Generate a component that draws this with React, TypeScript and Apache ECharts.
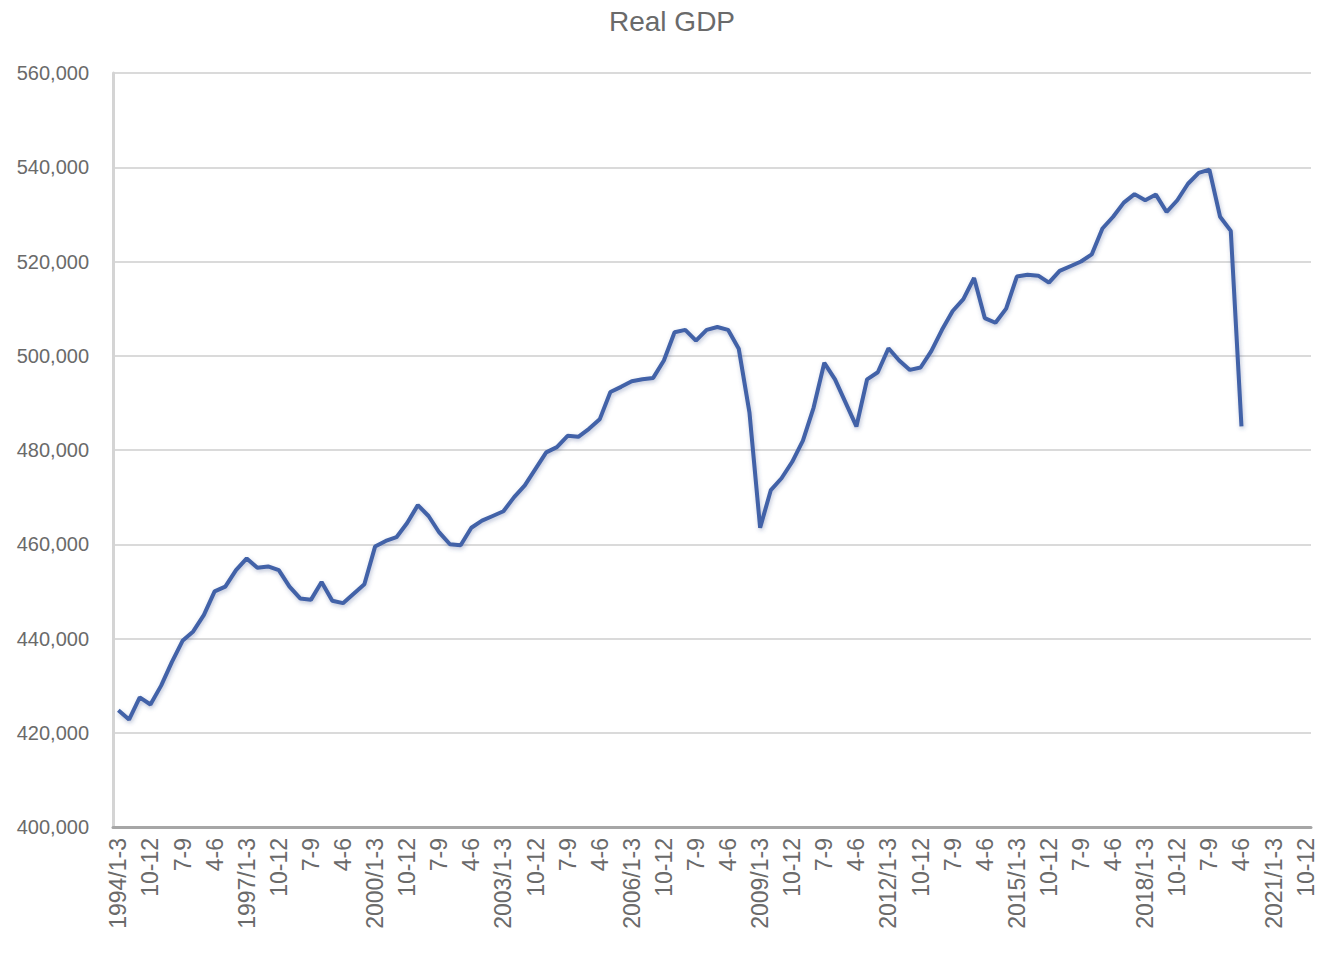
import React, { useEffect, useRef } from "react";
import * as echarts from "echarts";

const title = "Real GDP";

const startYear = 1994;
const endYear = 2021;
const quarterNames = ["1-3", "4-6", "7-9", "10-12"];

// Real GDP, quarterly, 1994 Q1 .. 2020 Q2
const gdp1994to2000 = [
  424800, 422800, 427500, 426000,
  430000, 435000, 439500, 441500,
  445000, 450000, 451000, 454500,
  457000, 455000, 455300, 454500,
  451000, 448500, 448200, 452000,
  448000, 447500, 449500, 451500,
  459500, 460700, 461500, 464500,
];
const gdp2001to2007 = [
  468300, 466000, 462500, 460000,
  459800, 463500, 465000, 466000,
  467000, 470000, 472500, 476000,
  479500, 480600, 483000, 482800,
  484500, 486500, 492300, 493400,
  494600, 495000, 495300, 499000,
  505000, 505500, 503200, 505500,
];
const gdp2008to2014 = [
  506100, 505500, 501500, 488000,
  463500, 471500, 474000, 477500,
  482000, 489000, 498500, 495000,
  490000, 485000, 495000, 496500,
  501600, 499000, 497000, 497500,
  501000, 505500, 509500, 512000,
  516500, 508000, 507000, 510000,
];
const gdp2015to2020 = [
  516800, 517200, 517000, 515500,
  518000, 519000, 520000, 521500,
  527000, 529500, 532500, 534300,
  533000, 534200, 530500, 533000,
  536500, 538800, 539500, 529500,
  526500, 485000,
];

const yMin = 400000;
const yMax = 560000;
const yStep = 20000;

export default function App() {
  const ref = useRef<HTMLDivElement>(null);

  useEffect(() => {
    document.body.style.margin = "0";
    if (!ref.current) return;
    const chart = echarts.init(ref.current, undefined, { renderer: "svg" });

    const categories: string[] = [];
    for (let y = startYear; y <= endYear; y++) {
      quarterNames.forEach((q, i) => {
        categories.push(i === 0 ? `${y}/${q}` : q);
      });
    }
    const values = [
      ...gdp1994to2000,
      ...gdp2001to2007,
      ...gdp2008to2014,
      ...gdp2015to2020,
    ];

    chart.setOption({
      animation: false,
      backgroundColor: "#ffffff",
      title: {
        text: title,
        left: 604,
        top: 2,
        textStyle: {
          fontFamily: "Liberation Sans",
          fontSize: 28,
          fontWeight: "normal",
          color: "#6a6a6a",
        },
      },
      grid: { left: 113, right: 8, top: 73, bottom: 128, containLabel: false },
      xAxis: {
        type: "category",
        data: categories,
        boundaryGap: true,
        axisLine: { show: true, lineStyle: { color: "#a6a6a6", width: 3 } },
        axisTick: { show: false },
        axisLabel: {
          interval: 2,
          rotate: 90,
          margin: 11,
          fontFamily: "Liberation Sans",
          fontSize: 23,
          color: "#6a6a6a",
        },
        splitLine: { show: false },
      },
      yAxis: {
        type: "value",
        min: yMin,
        max: yMax,
        interval: yStep,
        axisLine: { show: true, lineStyle: { color: "#d4d4d4", width: 3 } },
        axisTick: { show: false },
        axisLabel: {
          margin: 24,
          fontFamily: "Liberation Sans",
          fontSize: 20,
          color: "#6a6a6a",
          formatter: (v: number) => v.toLocaleString("en-US"),
        },
        splitLine: { show: true, lineStyle: { color: "#dadada", width: 2 } },
      },
      series: [
        {
          type: "line",
          data: values,
          showSymbol: false,
          symbol: "none",
          lineStyle: {
            color: "#4262a8",
            width: 4,
            shadowColor: "rgba(60,80,140,0.35)",
            shadowBlur: 4,
            shadowOffsetX: 1,
            shadowOffsetY: 2,
          },
        },
      ],
    });

    return () => chart.dispose();
  }, []);

  return <div ref={ref} style={{ width: 1319, height: 955 }} />;
}
